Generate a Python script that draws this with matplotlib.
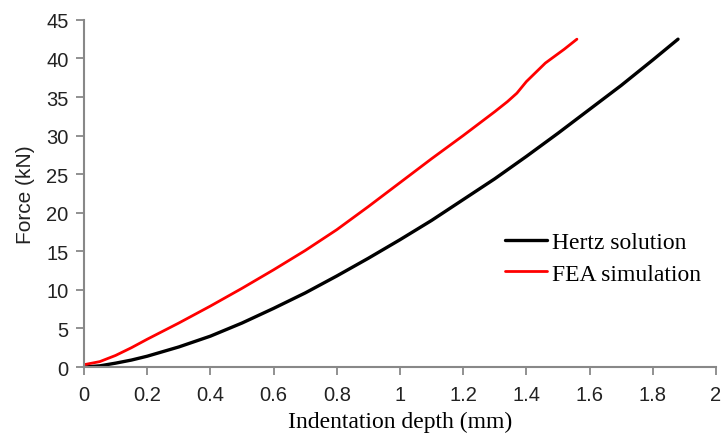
import matplotlib
matplotlib.use("Agg")
import matplotlib.pyplot as plt

# Hertz solution
hertz_d = [0, 0.05, 0.1, 0.15, 0.2, 0.3, 0.4, 0.5, 0.6, 0.7, 0.8, 0.9, 1.0,
           1.1, 1.2, 1.3, 1.4, 1.5, 1.6, 1.7, 1.8, 1.88]
hertz_f = [0, 0.15, 0.5, 0.9, 1.4, 2.6, 4.0, 5.7, 7.6, 9.6, 11.8, 14.1, 16.5,
           19.0, 21.7, 24.4, 27.3, 30.3, 33.4, 36.5, 39.8, 42.5]

# FEA simulation
fea_d = [0, 0.05, 0.1, 0.15, 0.2, 0.3, 0.4, 0.5, 0.6, 0.7, 0.8, 0.9,
         1.0, 1.1, 1.2, 1.3, 1.34, 1.37, 1.4, 1.46, 1.52, 1.56]
fea_f = [0.3, 0.7, 1.5, 2.5, 3.6, 5.7, 7.9, 10.2, 12.6, 15.1, 17.8, 20.8,
         23.9, 27.0, 30.0, 33.1, 34.4, 35.5, 37.0, 39.4, 41.2, 42.5]

xticks = [0, 0.2, 0.4, 0.6, 0.8, 1, 1.2, 1.4, 1.6, 1.8, 2]
xticklabels = ['0', '0.2', '0.4', '0.6', '0.8', '1', '1.2', '1.4', '1.6', '1.8', '2']
yticks = list(range(0, 50, 5))

fig = plt.figure(figsize=(7.21, 4.35), dpi=100)
ax = fig.add_axes([0.1165, 0.154, 0.8765, 0.798])

ax.plot(hertz_d, hertz_f, color='black', lw=2.4, label='Hertz solution',
        solid_capstyle='round')
ax.plot(fea_d, fea_f, color='#ff0000', lw=2.0, label='FEA simulation',
        solid_capstyle='round')

ax.set_xlim(0, 2)
ax.set_ylim(0, 45)
ax.set_xticks(xticks)
ax.set_xticklabels(xticklabels)
ax.set_yticks(yticks)

for s in ['top', 'right']:
    ax.spines[s].set_visible(False)
for s in ['left', 'bottom']:
    ax.spines[s].set_color('#888888')
    ax.spines[s].set_linewidth(1.5)
ax.tick_params(direction='out', length=6, width=1.3, color='#888888',
               labelsize=14.5, labelcolor='#222222')
ax.tick_params(axis='x', pad=7)
ax.tick_params(axis='y', pad=5)
for lab in ax.get_xticklabels() + ax.get_yticklabels():
    lab.set_family('Liberation Sans')

ax.set_ylabel('Force (kN)', family='Liberation Sans', fontsize=15, labelpad=8,
              color='#222222')
ax.set_xlabel('Indentation depth (mm)', family='Liberation Serif', fontsize=17,
              labelpad=5)

leg = ax.legend(loc='upper left', bbox_to_anchor=(0.651, 0.417), frameon=False,
                prop={'family': 'Liberation Serif', 'size': 17},
                handlelength=1.8, handletextpad=0.2, labelspacing=0.42,
                borderaxespad=0)

fig.savefig('out.png', dpi=100)
